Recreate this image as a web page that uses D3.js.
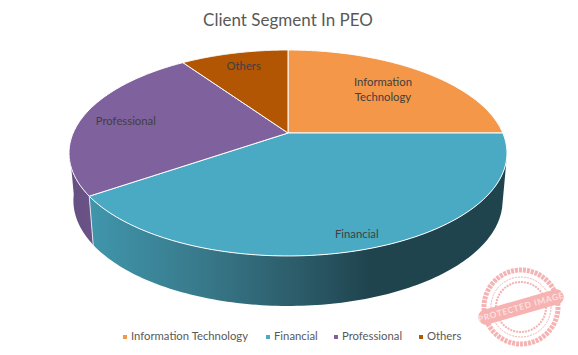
<!DOCTYPE html>
<html><head><meta charset="utf-8">
<style>html,body{margin:0;padding:0;background:#fff}svg{display:block}text{font-family:Lato,"Open Sans",sans-serif}</style>
<script src="https://cdn.jsdelivr.net/npm/d3@7"></script></head>
<body><svg id="c" width="578" height="355"></svg>
<script>
const categories=["Information Technology","Financial","Professional","Others"];
const shares=[25,40.4,25,9.6];
const colors=["#f49748","#4aa9c3","#7f619e","#b25604"];
const labelLines=[["Information","Technology"],["Financial"],["Professional"],["Others"]];
const labelRadius=[0.684,0.888,0.794,0.818];
const labelNudge=[[0,0],[1,0],[1,2],[1,0]];

const W=578,H=355,apex=[288,133],RX=214.8,RY=99.1,K=0.194;
const svg=d3.select("#c");
const arcs=d3.pie().sort(null).value(d=>d)(shares);
const proj=(a,r=1)=>{const u=r*Math.sin(a),v=-r*Math.cos(a),w=1-K*v;return [apex[0]+RX*u/w,apex[1]+RY*v/w,v];};
const low=(a)=>{const p=proj(a);return [apex[0]+(p[0]-apex[0])*0.98,p[1]+47+3*Math.max(0,p[2])];};
const steps=(a0,a1,n=120)=>d3.range(n+1).map(i=>a0+(a1-a0)*i/n);
const line=d3.line();
const rad=d=>d*Math.PI/180;

const defs=svg.append("defs");
const grad=defs.append("linearGradient").attr("id","wall").attr("gradientUnits","userSpaceOnUse").attr("x1",92).attr("x2",507).attr("y1",0).attr("y2",0);
[[0,"#4095ab"],[0.26,"#387a8b"],[0.5,"#2c5b69"],[0.67,"#1f444e"],[1,"#1f444e"]].forEach(s=>grad.append("stop").attr("offset",s[0]).attr("stop-color",s[1]));
const gradP=defs.append("linearGradient").attr("id","wallP").attr("gradientUnits","userSpaceOnUse").attr("x1",70).attr("x2",95).attr("y1",0).attr("y2",0);
gradP.append("stop").attr("offset",0).attr("stop-color","#654f82");
gradP.append("stop").attr("offset",1).attr("stop-color","#6c5389");

// side walls: visible part of each slice's rim
const wallRanges=[[1,"url(#wall)",rad(103),arcs[1].endAngle],[2,"url(#wallP)",arcs[2].startAngle,rad(262)]];
wallRanges.forEach(([i,fill,a0,a1])=>{
  const s=steps(a0,a1);
  const top=s.map(a=>proj(a).slice(0,2)),bot=s.slice().reverse().map(low);
  svg.append("path").attr("d",line(top.concat(bot))+"Z").attr("fill",fill);
});
// divider on the wall
{const a=arcs[1].endAngle;svg.append("path").attr("d",line([proj(a).slice(0,2),low(a)])).attr("stroke","#dfe4ea").attr("stroke-width",1).attr("fill","none");}

// top faces
arcs.forEach((a,i)=>{
  const rim=steps(a.startAngle,a.endAngle).map(t=>proj(t).slice(0,2));
  svg.append("path").attr("d",line([apex].concat(rim))+"Z").attr("fill",colors[i]).attr("stroke","#fff").attr("stroke-width",1).attr("stroke-linejoin","round");
});

// data labels
arcs.forEach((a,i)=>{
  const p=proj((a.startAngle+a.endAngle)/2,labelRadius[i]);
  const t=svg.append("text").attr("text-anchor","middle").attr("font-size",11.3).attr("fill","#404040");
  const ls=labelLines[i];
  ls.forEach((l,j)=>t.append("tspan").attr("x",p[0]+labelNudge[i][0]).attr("y",p[1]+labelNudge[i][1]+4+(j-(ls.length-1)/2)*15).text(l));
});

// title
svg.append("text").attr("x",288).attr("y",26).attr("text-anchor","middle").attr("font-size",17).attr("fill","#595959").text("Client Segment In PEO");

// legend
const legendX=[123,266,334,419];
categories.forEach((c,i)=>{
  svg.append("rect").attr("x",legendX[i]).attr("y",335).attr("width",4).attr("height",4).attr("fill",colors[i]);
  svg.append("text").attr("x",legendX[i]+8).attr("y",340).attr("font-size",11.3).attr("fill","#595959").text(c);
});

// stamp
const st=svg.append("g").attr("transform","translate(521,307)").attr("fill","none").attr("stroke","#f4a6a6").attr("opacity",0.85);
st.append("circle").attr("r",37).attr("stroke-width",5).attr("stroke-dasharray","3 1");
st.append("circle").attr("r",30).attr("stroke-width",1).attr("stroke-dasharray","2 1");
st.append("circle").attr("r",25).attr("stroke-width",2).attr("stroke-dasharray","2 1");
const b=st.append("g").attr("transform","rotate(-16)");
b.append("rect").attr("x",-44).attr("y",-7.5).attr("width",88).attr("height",15).attr("rx",7).attr("fill","#f6a5a5").attr("stroke","none");
b.append("text").attr("y",3).attr("text-anchor","middle").attr("font-size",8.5).attr("letter-spacing",0.7).attr("font-weight",700).attr("fill","#fbdcdc").attr("stroke","none").text("PROTECTED IMAGE");
</script></body></html>
